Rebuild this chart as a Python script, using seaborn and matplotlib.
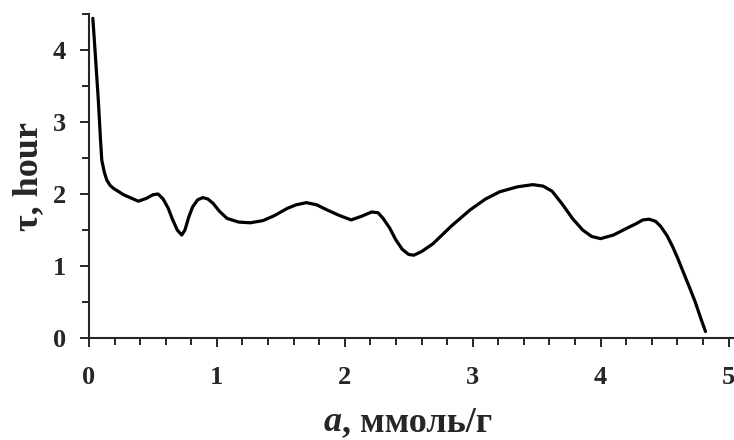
import matplotlib
matplotlib.use("Agg")
import matplotlib.pyplot as plt
import seaborn as sns
import pandas as pd
from matplotlib.ticker import MultipleLocator

# values
a_mmol = [0.03, 0.047, 0.073, 0.09, 0.10, 0.12, 0.14, 0.165, 0.19, 0.27, 0.385,
          0.45, 0.50, 0.54, 0.58, 0.62, 0.65, 0.69, 0.725, 0.75, 0.78, 0.81, 0.85,
          0.89, 0.93, 0.97, 1.02, 1.08, 1.17, 1.26, 1.36, 1.45, 1.55, 1.62, 1.70,
          1.78, 1.86, 1.96, 2.05, 2.13, 2.21, 2.26, 2.30, 2.35, 2.40, 2.45, 2.50,
          2.54, 2.60, 2.69, 2.83, 2.98, 3.10, 3.21, 3.35, 3.47, 3.55, 3.62, 3.70,
          3.78, 3.86, 3.93, 4.00, 4.10, 4.20, 4.28, 4.33, 4.38, 4.43, 4.47, 4.52,
          4.56, 4.60, 4.65, 4.70, 4.74, 4.78, 4.82]
tau_hour = [4.44, 4.00, 3.30, 2.75, 2.47, 2.30, 2.19, 2.12, 2.08, 1.99, 1.90,
            1.94, 1.99, 2.00, 1.93, 1.80, 1.66, 1.50, 1.43, 1.50, 1.68, 1.82, 1.92,
            1.95, 1.93, 1.87, 1.76, 1.66, 1.61, 1.60, 1.63, 1.70, 1.80, 1.85, 1.88,
            1.85, 1.78, 1.70, 1.64, 1.69, 1.75, 1.74, 1.66, 1.53, 1.36, 1.23, 1.16,
            1.15, 1.20, 1.31, 1.55, 1.78, 1.93, 2.03, 2.10, 2.13, 2.11, 2.04, 1.86,
            1.66, 1.50, 1.41, 1.38, 1.43, 1.52, 1.59, 1.64, 1.65, 1.62, 1.55, 1.42,
            1.28, 1.12, 0.90, 0.68, 0.50, 0.29, 0.09]

df = pd.DataFrame({"a": a_mmol, "tau": tau_hour})

sns.set_style("ticks")
plt.rcParams['font.family'] = ['Liberation Serif', 'DejaVu Serif']
plt.rcParams['font.weight'] = 'bold'

fig = plt.figure(figsize=(7.34, 4.4), dpi=100)
ax = fig.add_axes([89 / 734, 102 / 440, 645 / 734, 324 / 440])

sns.lineplot(data=df, x="a", y="tau", color="black", linewidth=2.3, ax=ax,
             solid_capstyle="round", solid_joinstyle="round")

ax.set_xlim(0, 5.043)
ax.set_ylim(0, 4.5)
ax.xaxis.set_major_locator(MultipleLocator(1))
ax.xaxis.set_minor_locator(MultipleLocator(0.2))
ax.yaxis.set_major_locator(MultipleLocator(1))
ax.yaxis.set_minor_locator(MultipleLocator(0.5))
ax.tick_params(which="major", direction="out", length=6.5, width=1.4, labelsize=19)
ax.tick_params(which="minor", direction="out", length=5, width=1.4)
ax.tick_params(axis="x", which="major", pad=14)
ax.tick_params(axis="y", which="major", pad=10)
for lab in ax.get_xticklabels() + ax.get_yticklabels():
    lab.set_fontweight("bold")
for s in ["left", "bottom"]:
    ax.spines[s].set_linewidth(1.5)
sns.despine(ax=ax)
ax.set_xlabel("")
ax.set_ylabel("")

# axis titles
fig.text(37 / 734, 0.598, "τ, hour", rotation=90, rotation_mode="anchor",
         ha="center", va="baseline", fontsize=26, fontweight="bold")
fig.text(342 / 734, 9 / 440, "a", style="italic", ha="right", va="baseline",
         fontsize=26, fontweight="bold")
fig.text(342 / 734, 9 / 440, ", ммоль/г", ha="left", va="baseline",
         fontsize=26, fontweight="bold")

fig.savefig("out.png", dpi=100)
